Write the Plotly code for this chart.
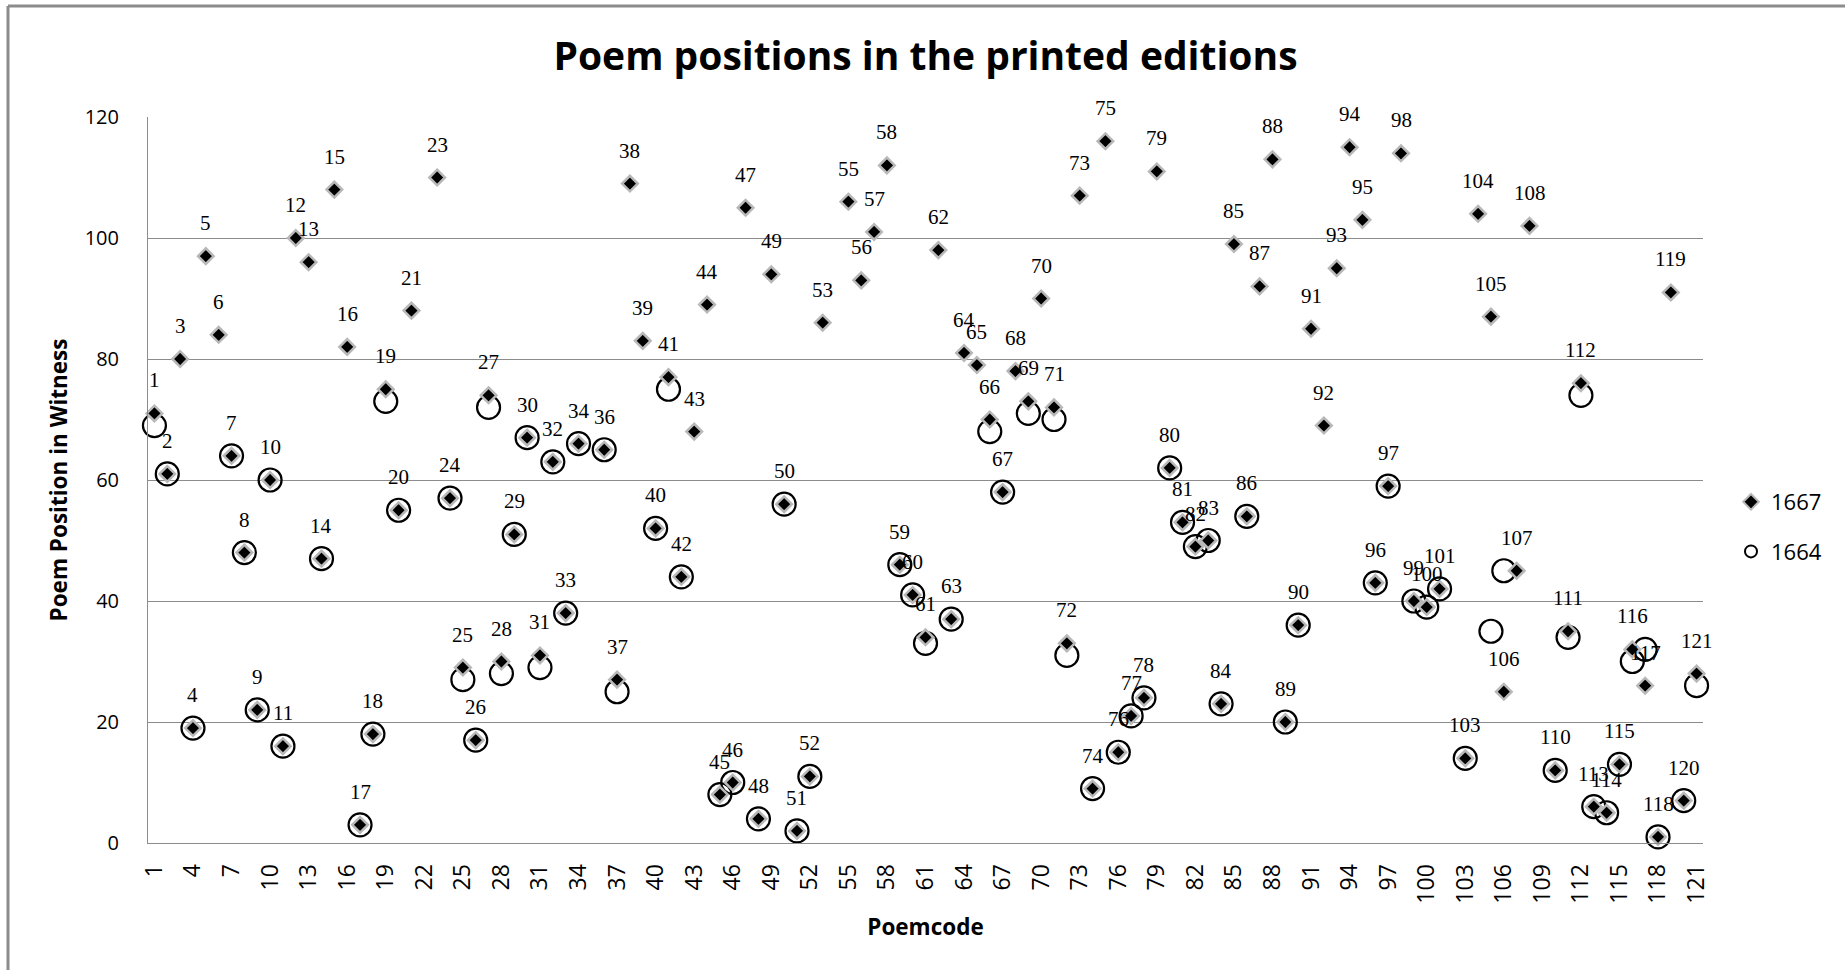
import plotly.graph_objects as go

# ---- data ----
codes_1667 = [1, 2, 3, 4, 5, 6, 7, 8, 9, 10, 11, 12, 13, 14, 15, 16, 17, 18, 19, 20,
              21, 23, 24, 25, 26, 27, 28, 29, 30, 31, 32, 33, 34, 36, 37, 38, 39, 40,
              41, 42, 43, 44, 45, 46, 47, 48, 49, 50, 51, 52, 53, 55, 56, 57, 58, 59,
              60, 61, 62, 63, 64, 65, 66, 67, 68, 69, 70, 71, 72, 73, 74, 75, 76, 77,
              78, 79, 80, 81, 82, 83, 84, 85, 86, 87, 88, 89, 90, 91, 92, 93, 94, 95,
              96, 97, 98, 99, 100, 101, 103, 104, 105, 106, 107, 108, 110, 111, 112,
              113, 114, 115, 116, 117, 118, 119, 120, 121]
values_1667 = [71, 61, 80, 19, 97, 84, 64, 48, 22, 60, 16, 100, 96, 47, 108, 82, 3, 18, 75, 55,
               88, 110, 57, 29, 17, 74, 30, 51, 67, 31, 63, 38, 66, 65, 27, 109, 83, 52,
               77, 44, 68, 89, 8, 10, 105, 4, 94, 56, 2, 11, 86, 106, 93, 101, 112, 46,
               41, 34, 98, 37, 81, 79, 70, 58, 78, 73, 90, 72, 33, 107, 9, 116, 15, 21,
               24, 111, 62, 53, 49, 50, 23, 99, 54, 92, 113, 20, 36, 85, 69, 95, 115, 103,
               43, 59, 114, 40, 39, 42, 14, 104, 87, 25, 45, 102, 12, 35, 76,
               6, 5, 13, 32, 26, 1, 91, 7, 28]

codes_1664 = [1, 2, 4, 7, 8, 9, 10, 11, 14, 17, 18, 19, 20, 24, 25, 26, 27, 28, 29, 30,
              31, 32, 33, 34, 36, 37, 40, 41, 42, 45, 46, 48, 50, 51, 52, 59, 60, 61,
              63, 66, 67, 69, 71, 72, 74, 76, 77, 78, 80, 81, 82, 83, 84, 86, 89, 90,
              96, 97, 99, 100, 101, 103, 105, 106, 110, 111, 112, 113, 114, 115, 116,
              117, 118, 120, 121]
values_1664 = [69, 61, 19, 64, 48, 22, 60, 16, 47, 3, 18, 73, 55, 57, 27, 17, 72, 28, 51, 67,
               29, 63, 38, 66, 65, 25, 52, 75, 44, 8, 10, 4, 56, 2, 11, 46, 41, 33,
               37, 68, 58, 71, 70, 31, 9, 15, 21, 24, 62, 53, 49, 50, 23, 54, 20, 36,
               43, 59, 40, 39, 42, 14, 35, 45, 12, 34, 74, 6, 5, 13, 30,
               32, 1, 7, 26]

tick_values = list(range(1, 122, 3))
tick_labels = [str(v) for v in tick_values]

title_text = "Poem positions in the printed editions"
x_title = "Poemcode"
y_title = "Poem Position in Witness"

# ---- figure ----
SANS = "Open Sans"
SERIF = "Liberation Serif"
GRID = "#8c8c8c"

fig = go.Figure()

fig.add_trace(go.Scatter(
    x=codes_1664, y=values_1664, name="1664", mode="markers",
    legendgroup="b", legendrank=2,
    marker=dict(symbol="circle-open", size=23, color="black",
                line=dict(width=2.2, color="black")),
    cliponaxis=False,
))
fig.add_trace(go.Scatter(
    x=codes_1667, y=values_1667, name="1667", mode="markers",
    legendgroup="a", legendrank=1,
    marker=dict(symbol="diamond", size=12, color="black",
                line=dict(width=2.5, color="#b8b8b8")),
    cliponaxis=False,
))

annotations = []
for c, v in zip(codes_1667, values_1667):
    annotations.append(dict(
        x=c, y=v, xref="x", yref="y", text=str(c), showarrow=False,
        yshift=33, yanchor="middle", xanchor="center",
        font=dict(family=SERIF, size=21, color="black"),
    ))

W, H = 1845, 970
L, R, T, B = 148, 142, 117, 127
pw, ph = W - L - R, H - T - B

def px_to_paper_x(px):
    return (px - L) / pw

def px_to_paper_y(py):
    return (H - B - py) / ph

shapes = [
    dict(type="line", xref="paper", yref="paper",
         x0=px_to_paper_x(8), x1=px_to_paper_x(8),
         y0=px_to_paper_y(6), y1=px_to_paper_y(975),
         line=dict(color=GRID, width=3)),
    dict(type="line", xref="paper", yref="paper",
         x0=px_to_paper_x(8), x1=px_to_paper_x(1850),
         y0=px_to_paper_y(6), y1=px_to_paper_y(6),
         line=dict(color=GRID, width=3)),
]

fig.update_layout(
    width=W, height=H,
    margin=dict(l=L, r=R, t=T, b=B),
    paper_bgcolor="white", plot_bgcolor="white",
    title=dict(text=title_text, x=0.5, xref="paper", xanchor="center",
               y=1 - 56 / H, yref="container", yanchor="middle",
               font=dict(family=SANS, size=39, color="black", weight="bold")),
    xaxis=dict(
        range=[0.5, 121.5], tickmode="array", tickvals=tick_values, ticktext=tick_labels,
        tickangle=-90, showgrid=False, zeroline=False,
        showline=True, linecolor=GRID, linewidth=1, ticks="",
        ticklabelstandoff=11,
        tickfont=dict(family=SANS, size=23, color="black"),
        title=dict(text=x_title, standoff=16,
                   font=dict(family=SANS, size=22.5, color="black", weight="bold")),
    ),
    yaxis=dict(
        range=[0, 120], dtick=20, showgrid=True, gridcolor=GRID, gridwidth=1,
        zeroline=False, showline=True, linecolor=GRID, linewidth=1, ticks="",
        ticklabelstandoff=24,
        tickfont=dict(family=SANS, size=20, color="black"),
        title=dict(text=y_title, standoff=10,
                   font=dict(family=SANS, size=22.5, color="black", weight="bold")),
    ),
    legend=dict(x=px_to_paper_x(1731), xanchor="left", y=px_to_paper_y(527), yanchor="middle",
                traceorder="grouped", tracegroupgap=18,
                font=dict(family=SANS, size=22, color="black"),
                bgcolor="rgba(0,0,0,0)", itemsizing="constant"),
    annotations=annotations,
    shapes=shapes,
    showlegend=True,
)

fig.write_html("out.html",
               config={"displayModeBar": False},
               post_script="document.body.style.margin='0';document.body.style.overflow='hidden';")
